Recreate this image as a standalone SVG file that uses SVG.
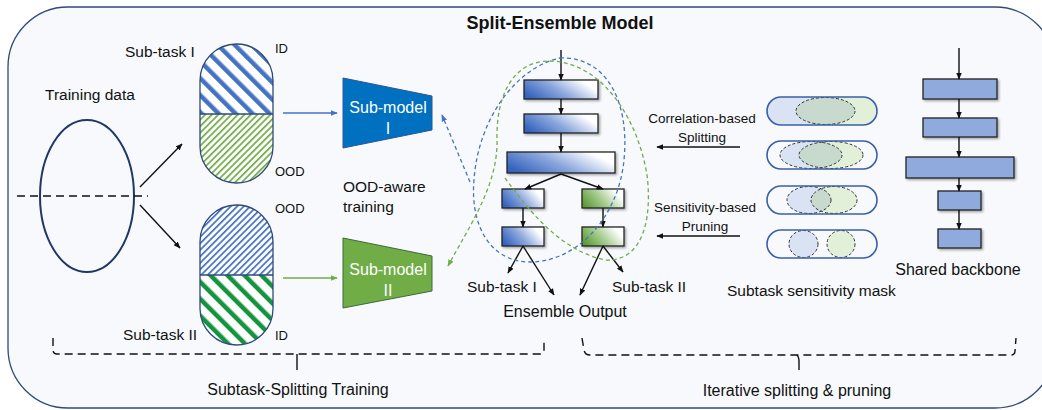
<svg xmlns="http://www.w3.org/2000/svg" width="1042" height="410" viewBox="0 0 1042 410">
<style>
.t{font-family:"Liberation Sans",Arial,sans-serif;font-size:15.5px;fill:#111}
.s{font-size:13px}
.m{font-size:13.5px}
.c{text-anchor:middle}
.w{fill:#fff;font-size:16px}
.ln{stroke:#111;stroke-width:1.4;fill:none}
.dash{stroke:#111;stroke-width:1.4;fill:none;stroke-dasharray:8 5}
.eb{stroke:#222;stroke-width:1.3}
.bb{fill:#8faadc;stroke:#222;stroke-width:1.3}
.cap{fill:none;stroke:#2f4a7a;stroke-width:1.3}
.mk{fill:none;stroke:#3a5fa8;stroke-width:1.6}
.ed{stroke:#333;stroke-width:1;stroke-dasharray:3 2}
</style>
<defs>
<marker id="ah" viewBox="0 0 10 10" refX="9" refY="5" markerWidth="7" markerHeight="7" markerUnits="userSpaceOnUse" orient="auto"><path d="M0,1 L10,5 L0,9 z" fill="#111"/></marker>
<marker id="ahb" viewBox="0 0 10 10" refX="9" refY="5" markerWidth="7" markerHeight="7" markerUnits="userSpaceOnUse" orient="auto"><path d="M0,1 L10,5 L0,9 z" fill="#4472c4"/></marker>
<marker id="ahg" viewBox="0 0 10 10" refX="9" refY="5" markerWidth="7" markerHeight="7" markerUnits="userSpaceOnUse" orient="auto"><path d="M0,1 L10,5 L0,9 z" fill="#70ad47"/></marker>
<pattern id="pBT" width="12" height="12" patternUnits="userSpaceOnUse" patternTransform="rotate(-45)"><rect width="4.5" height="12" fill="#4472c4"/></pattern>
<pattern id="pGT" width="12" height="12" patternUnits="userSpaceOnUse" patternTransform="rotate(-45)"><rect width="4.5" height="12" fill="#13943f"/></pattern>
<pattern id="pBt" width="4.6" height="4.6" patternUnits="userSpaceOnUse" patternTransform="rotate(45)"><rect width="1.7" height="4.6" fill="#4472c4"/></pattern>
<pattern id="pGt" width="4.6" height="4.6" patternUnits="userSpaceOnUse" patternTransform="rotate(45)"><rect width="1.7" height="4.6" fill="#70ad47"/></pattern>
<linearGradient id="gB" x1="0" y1="0.7" x2="1" y2="0.3"><stop offset="0" stop-color="#3563bd"/><stop offset="0.45" stop-color="#8aa6dc"/><stop offset="0.9" stop-color="#ffffff"/></linearGradient>
<linearGradient id="gG" x1="0" y1="0.7" x2="1" y2="0.3"><stop offset="0" stop-color="#5d9c36"/><stop offset="0.45" stop-color="#a6cc8f"/><stop offset="0.9" stop-color="#ffffff"/></linearGradient>
<filter id="sh" x="-10%" y="-20%" width="130%" height="160%"><feDropShadow dx="1.5" dy="1.5" stdDeviation="0.8" flood-color="#000" flood-opacity="0.35"/></filter>
<clipPath id="c1t"><rect x="199" y="43" width="76" height="71"/></clipPath>
<clipPath id="c1b"><rect x="199" y="114" width="76" height="70"/></clipPath>
<clipPath id="c2t"><rect x="199" y="204" width="76" height="71"/></clipPath>
<clipPath id="c2b"><rect x="199" y="275" width="76" height="71"/></clipPath>
<clipPath id="m1"><rect x="767" y="97" width="110" height="28" rx="14"/></clipPath>
<clipPath id="o2"><ellipse cx="811" cy="155" rx="31" ry="13.5"/></clipPath>
<clipPath id="o3"><ellipse cx="809" cy="200" rx="22" ry="13.5"/></clipPath>
</defs>

<rect id="frame" x="8" y="7" width="1047" height="401" rx="60" ry="60" fill="#f7f9fc" stroke="#2f4a7a" stroke-width="1.3"/>
<text class="t c" x="560" y="29" style="font-weight:bold;font-size:18px">Split-Ensemble Model</text>

<g id="training-data">
<ellipse cx="87" cy="196" rx="47" ry="76" fill="none" stroke="#1f3864" stroke-width="2"/>
<text class="t" x="45" y="100">Training data</text>
</g>

<g id="subtask1">
<rect x="200" y="44" width="73" height="139" rx="36.5" fill="#fff"/>
<rect x="200" y="44" width="73" height="139" rx="36.5" fill="url(#pBT)" clip-path="url(#c1t)"/>
<rect x="200" y="44" width="73" height="139" rx="36.5" fill="url(#pGt)" clip-path="url(#c1b)"/>
<rect class="cap" x="200" y="44" width="73" height="139" rx="36.5"/>
<line x1="200" y1="114" x2="273" y2="114" stroke="#2f4a7a" stroke-width="1.3"/>
<text class="t" x="125" y="57">Sub-task I</text>
<text class="t s" x="275" y="53">ID</text>
<text class="t s" x="275" y="176">OOD</text>
</g>

<g id="subtask2">
<rect x="200" y="205" width="73" height="140" rx="36.5" fill="#fff"/>
<rect x="200" y="205" width="73" height="140" rx="36.5" fill="url(#pBt)" clip-path="url(#c2t)"/>
<rect x="200" y="205" width="73" height="140" rx="36.5" fill="url(#pGT)" clip-path="url(#c2b)"/>
<rect class="cap" x="200" y="205" width="73" height="140" rx="36.5"/>
<line x1="200" y1="275" x2="273" y2="275" stroke="#2f4a7a" stroke-width="1.3"/>
<text class="t s" x="275" y="213">OOD</text>
<text class="t" x="123" y="340">Sub-task II</text>
<text class="t s" x="275" y="340">ID</text>
</g>

<g id="submodel1">
<polygon points="343,78 432,96 432,130 343,148" fill="#0070c0" stroke="#2f5597" stroke-width="1"/>
<text class="t w c" x="388" y="113">Sub-model</text>
<text class="t w c" x="388" y="134">I</text>
</g>
<g id="submodel2">
<polygon points="343,238 432,256 432,291 343,308" fill="#70ad47" stroke="#41693a" stroke-width="1"/>
<text class="t w c" x="388" y="275">Sub-model</text>
<text class="t w c" x="388" y="296">II</text>
</g>
<text class="t" x="343" y="192">OOD-aware</text>
<text class="t" x="343" y="212">training</text>

<g id="ensemble">
<rect class="eb" x="524" y="80" width="74" height="19" fill="url(#gB)" filter="url(#sh)"/>
<rect class="eb" x="524" y="114" width="74" height="19" fill="url(#gB)" filter="url(#sh)"/>
<rect class="eb" x="507" y="152" width="108" height="21" fill="url(#gB)" filter="url(#sh)"/>
<rect class="eb" x="502" y="189" width="42" height="19" fill="url(#gB)" filter="url(#sh)"/>
<rect class="eb" x="582" y="189" width="42" height="19" fill="url(#gG)" filter="url(#sh)"/>
<rect class="eb" x="502" y="227" width="42" height="19" fill="url(#gB)" filter="url(#sh)"/>
<rect class="eb" x="582" y="227" width="42" height="19" fill="url(#gG)" filter="url(#sh)"/>
<text class="t" x="467" y="292">Sub-task I</text>
<text class="t" x="612" y="292">Sub-task II</text>
<text class="t c" x="565" y="317" style="font-size:16px">Ensemble Output</text>
</g>

<g id="masks">
<g clip-path="url(#m1)">
<rect x="767" y="97" width="59" height="28" fill="#dae3f3"/>
<rect x="826" y="97" width="51" height="28" fill="#e2f0d9"/>
</g>
<ellipse class="ed" cx="825.5" cy="111" rx="29.5" ry="13.5" fill="#c7dacd"/>
<rect class="mk" x="767" y="97" width="110" height="28" rx="14"/>

<ellipse cx="811" cy="155" rx="31" ry="13.5" fill="#dae3f3"/>
<ellipse cx="831" cy="155" rx="32" ry="13.5" fill="#e2f0d9"/>
<ellipse cx="831" cy="155" rx="32" ry="13.5" fill="#c7dacd" clip-path="url(#o2)"/>
<ellipse class="ed" cx="811" cy="155" rx="31" ry="13.5" fill="none"/>
<ellipse class="ed" cx="831" cy="155" rx="32" ry="13.5" fill="none"/>
<rect class="mk" x="767" y="141" width="110" height="28" rx="14"/>

<ellipse cx="809" cy="200" rx="22" ry="13.5" fill="#dae3f3"/>
<ellipse cx="834" cy="200" rx="23" ry="13.5" fill="#e2f0d9"/>
<ellipse cx="834" cy="200" rx="23" ry="13.5" fill="#c7dacd" clip-path="url(#o3)"/>
<ellipse class="ed" cx="809" cy="200" rx="22" ry="13.5" fill="none"/>
<ellipse class="ed" cx="834" cy="200" rx="23" ry="13.5" fill="none"/>
<rect class="mk" x="767" y="186" width="110" height="28" rx="14"/>

<ellipse class="ed" cx="803.5" cy="244" rx="14.5" ry="13.5" fill="#dae3f3"/>
<ellipse class="ed" cx="841" cy="244" rx="14" ry="13.5" fill="#e2f0d9"/>
<rect class="mk" x="767" y="230" width="110" height="28" rx="14"/>
<text class="t" x="727" y="296">Subtask sensitivity mask</text>
</g>

<g id="backbone">
<rect class="bb" x="923" y="79" width="74" height="20" filter="url(#sh)"/>
<rect class="bb" x="923" y="118" width="74" height="19" filter="url(#sh)"/>
<rect class="bb" x="906" y="157" width="108" height="21" filter="url(#sh)"/>
<rect class="bb" x="938" y="191" width="43" height="19" filter="url(#sh)"/>
<rect class="bb" x="938" y="229" width="43" height="19" filter="url(#sh)"/>
<text class="t c" x="958" y="275" style="font-size:16px">Shared backbone</text>
</g>

<g id="labels">
<text class="t m c" x="702" y="123">Correlation-based</text>
<text class="t m c" x="702" y="142">Splitting</text>
<text class="t m c" x="705" y="212">Sensitivity-based</text>
<text class="t m c" x="705" y="231">Pruning</text>
<text class="t c" x="298" y="395" style="font-size:16px">Subtask-Splitting Training</text>
<text class="t c" x="797" y="396" style="font-size:16px">Iterative splitting &amp; pruning</text>
</g>

<g id="connectors">
<line x1="17" y1="196" x2="148" y2="196" class="dash" stroke-dasharray="6 4"/>
<line class="ln" x1="140" y1="187" x2="182" y2="144" marker-end="url(#ah)"/>
<line class="ln" x1="140" y1="205" x2="180" y2="248" marker-end="url(#ah)"/>
<line x1="283" y1="113" x2="337" y2="113" stroke="#4472c4" stroke-width="1.4" marker-end="url(#ahb)"/>
<line x1="283" y1="278" x2="337" y2="278" stroke="#70ad47" stroke-width="1.4" marker-end="url(#ahg)"/>
<line class="ln" x1="561" y1="50" x2="561" y2="80" marker-end="url(#ah)"/>
<line class="ln" x1="561" y1="99" x2="561" y2="114" marker-end="url(#ah)"/>
<line class="ln" x1="561" y1="133" x2="561" y2="152" marker-end="url(#ah)"/>
<line class="ln" x1="561" y1="174" x2="525" y2="189" marker-end="url(#ah)"/>
<line class="ln" x1="561" y1="174" x2="603" y2="189" marker-end="url(#ah)"/>
<line class="ln" x1="523" y1="208" x2="523" y2="227" marker-end="url(#ah)"/>
<line class="ln" x1="603" y1="208" x2="603" y2="227" marker-end="url(#ah)"/>
<line class="ln" x1="523" y1="246" x2="508" y2="273" marker-end="url(#ah)"/>
<line class="ln" x1="523" y1="246" x2="554" y2="295" marker-end="url(#ah)"/>
<line class="ln" x1="603" y1="246" x2="580" y2="295" marker-end="url(#ah)"/>
<line class="ln" x1="603" y1="246" x2="623" y2="272" marker-end="url(#ah)"/>
<line class="ln" x1="740" y1="147" x2="657" y2="147" marker-end="url(#ah)"/>
<line class="ln" x1="740" y1="236" x2="657" y2="236" marker-end="url(#ah)"/>
<line class="ln" x1="959" y1="48" x2="959" y2="79" marker-end="url(#ah)"/>
<line class="ln" x1="959" y1="99" x2="959" y2="118" marker-end="url(#ah)"/>
<line class="ln" x1="959" y1="137" x2="959" y2="157" marker-end="url(#ah)"/>
<line class="ln" x1="959" y1="178" x2="959" y2="191" marker-end="url(#ah)"/>
<line class="ln" x1="959" y1="210" x2="959" y2="229" marker-end="url(#ah)"/>
<path d="M560,58 C605,56 630,100 624,160 C618,220 575,262 530,262 C490,262 470,225 474,180 C478,120 515,68 560,58 Z" fill="none" stroke="#4472c4" stroke-width="1.3" stroke-dasharray="4 3"/>
<path d="M470,182 L442,115" fill="none" stroke="#4472c4" stroke-width="1.3" stroke-dasharray="4 3" marker-end="url(#ahb)"/>
<path d="M505,178 C530,212 560,250 605,260 C645,262 652,215 647,175 C637,115 600,62 550,61 C510,61 496,100 497,140 C498,185 470,225 448,266" fill="none" stroke="#70ad47" stroke-width="1.3" stroke-dasharray="4 3" marker-end="url(#ahg)"/>
<path d="M53,338 L53,350 Q53,354 57,354 L540,354 Q544,354 544,350 L544,338" class="dash"/>
<path d="M297,354 L297,370" class="ln"/>
<path d="M582,338 L584,350 Q585,355 590,355 L1011,355 Q1015,355 1015,351 L1016,338" class="dash"/>
<path d="M797,355 Q799,357 799,362 L799,370" class="ln"/>
</g>
</svg>
